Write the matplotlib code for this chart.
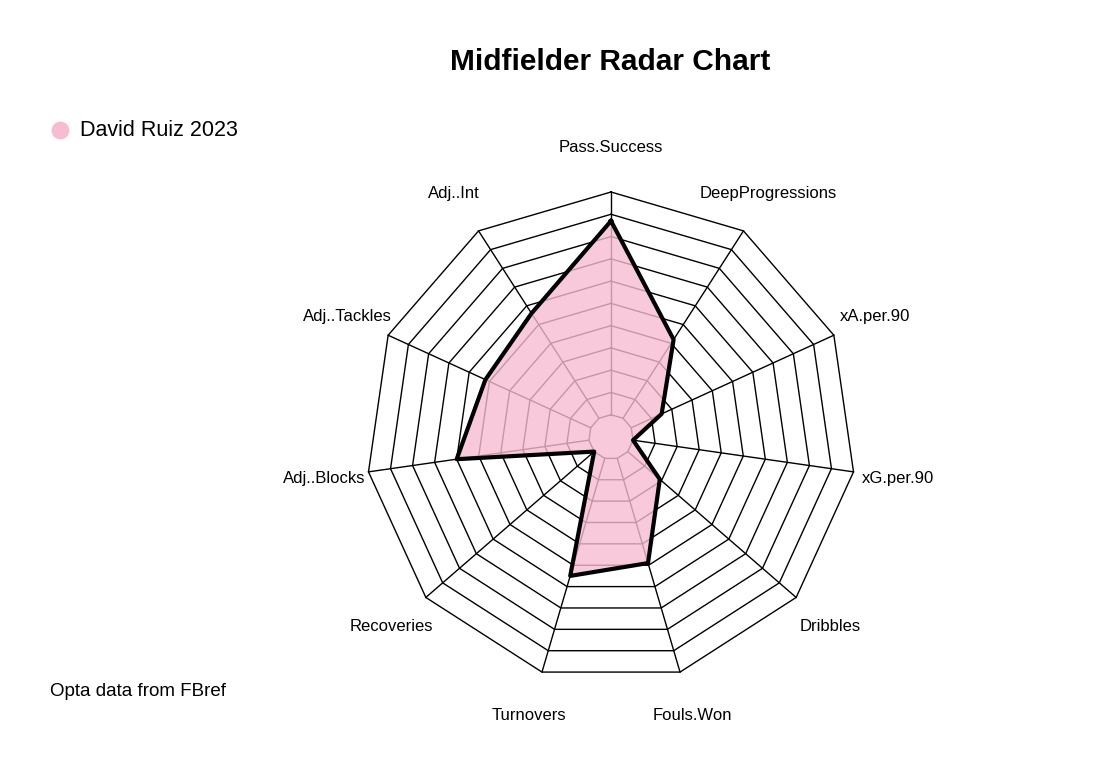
import numpy as np
import matplotlib.pyplot as plt

# --------------------------------------------------------------------
# Data (percentile-like scores, 0-100)
# --------------------------------------------------------------------
metrics = ["Pass.Success", "DeepProgressions", "xA.per.90", "xG.per.90", "Dribbles",
           "Fouls.Won", "Turnovers", "Recoveries", "Adj..Blocks", "Adj..Tackles", "Adj..Int"]
values = [87, 42, 15, 0, 19, 49, 55, 0, 60, 52, 56]
player = "David Ruiz 2023"

# --------------------------------------------------------------------
# Layout (pixel coordinates)
# --------------------------------------------------------------------
W, H = 1104, 765
cx, cy, R = 611, 437, 245
seg = 10
pink = "#f7bcd2"

fig = plt.figure(figsize=(W / 100, H / 100), dpi=100)
ax = fig.add_axes([0, 0, 1, 1])
ax.set_xlim(0, W)
ax.set_ylim(H, 0)
ax.axis("off")

n = len(metrics)
ang = np.arange(n) * 2 * np.pi / n
sx, sy = np.sin(ang), -np.cos(ang)

# grid polygons (hole + seg rings)
for k in range(seg + 1):
    r = R * (1 + k) / (seg + 1)
    ax.plot(np.append(cx + r * sx, cx + r * sx[0]),
            np.append(cy + r * sy, cy + r * sy[0]), color="black", lw=1, zorder=1)
r0 = R / (seg + 1)
for i in range(n):
    ax.plot([cx + r0 * sx[i], cx + R * sx[i]], [cy + r0 * sy[i], cy + R * sy[i]],
            color="black", lw=1, zorder=1)

# data polygon
v = np.array(values) / 100.0
rr = R * (1 + v * seg) / (seg + 1)
px, py = cx + rr * sx, cy + rr * sy
ax.fill(px, py, color=pink, alpha=0.8, zorder=2, lw=0)
ax.plot(np.append(px, px[0]), np.append(py, py[0]), color="black", lw=3, zorder=3)

# axis labels
rl = 290
for i, m in enumerate(metrics):
    ax.text(cx + rl * sx[i], cy + rl * sy[i], m, ha="center", va="center",
            fontsize=12, family="Liberation Sans")

ax.text(cx - 1, 62, "Midfielder Radar Chart", ha="center", va="center",
        fontsize=21.5, fontweight="bold", family="Liberation Sans")
ax.scatter([60], [130], s=140, color=pink, zorder=4)
ax.text(80, 130, player, ha="left", va="center", fontsize=15.5, family="Liberation Sans")
ax.text(50, 692, "Opta data from FBref", ha="left", va="center", fontsize=13.5,
        family="Liberation Sans")

fig.savefig("out.png", dpi=100)
